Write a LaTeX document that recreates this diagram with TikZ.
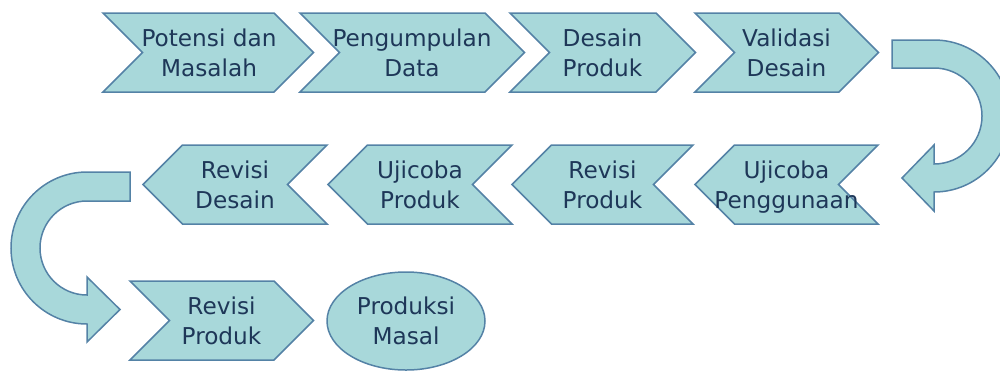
\documentclass[tikz,border=0pt]{standalone}
\usepackage{fontspec}
\setmainfont{DejaVu Sans}
\definecolor{fillc}{RGB}{168,216,218}
\definecolor{linec}{RGB}{84,130,166}
\definecolor{textc}{RGB}{30,55,88}
\newcommand\chevR[3]{% left, top-right, mid y
  \draw[blk] (#1,#3+39.5) -- (#2,#3+39.5) -- (#2+39.5,#3) -- (#2,#3-39.5) -- (#1,#3-39.5) -- (#1+39.5,#3) -- cycle;}
\newcommand\chevL[3]{% point, top-right, mid y
  \draw[blk] (#1,#3) -- (#1+39.5,#3+39.5) -- (#2,#3+39.5) -- (#2-39.5,#3) -- (#2,#3-39.5) -- (#1+39.5,#3-39.5) -- cycle;}
\begin{document}
\begin{tikzpicture}[x=0.5pt,y=0.5pt,
  blk/.style={fill=fillc, draw=linec, line width=0.75pt, line join=miter},
  lbl/.style={text=textc, font=\fontsize{11.6}{15}\selectfont, align=center, inner sep=0pt, text depth=0pt}]
\useasboundingbox (0,0) rectangle (1000,-371);
\clip (0,0) rectangle (1000,-371);
% row 1
\chevR{103}{274}{-52.5}
\chevR{300}{485}{-52.5}
\chevR{510}{656}{-52.5}
\chevR{695}{839}{-52.5}
\node[lbl] (potensi) at (209,-52.5) {Potensi dan\\Masalah};
\node[lbl] (pengumpulan) at (412,-52.5) {Pengumpulan\\Data};
\node[lbl] (desain) at (602.5,-52.5) {Desain\\Produk};
\node[lbl] (validasi) at (786.5,-52.5) {Validasi\\Desain};
% right U-turn arrow
\draw[blk] (892,-40) -- (934,-40) arc[start angle=90, end angle=-90, radius=76]
  -- (934,-211) -- (902,-178) -- (934,-145) -- (934,-164)
  arc[start angle=-90, end angle=90, radius=48] -- (892,-68) -- cycle;
% row 2
\chevL{695}{878}{-184.5}
\chevL{512}{693}{-184.5}
\chevL{328}{512}{-184.5}
\chevL{143}{327}{-184.5}
\node[lbl] (ujipeng) at (786.5,-184.5) {Ujicoba\\Penggunaan};
\node[lbl] (revprod) at (602.5,-184.5) {Revisi\\Produk};
\node[lbl] (ujiprod) at (420,-184.5) {Ujicoba\\Produk};
\node[lbl] (revdes) at (235,-184.5) {Revisi\\Desain};
% left U-turn arrow
\draw[blk] (130,-172) -- (87,-172) arc[start angle=90, end angle=270, radius=76]
  -- (87,-342) -- (120,-309.5) -- (87,-277) -- (87,-295)
  arc[start angle=270, end angle=90, radius=47] -- (130,-201) -- cycle;
% row 3
\chevR{130}{274}{-320.5}
\node[lbl] (revprod2) at (221.5,-320.5) {Revisi\\Produk};
\draw[blk] (406,-321) ellipse[x radius=79, y radius=49];
\node[lbl] (produksi) at (406,-321) {Produksi\\Masal};
\end{tikzpicture}
\end{document}
